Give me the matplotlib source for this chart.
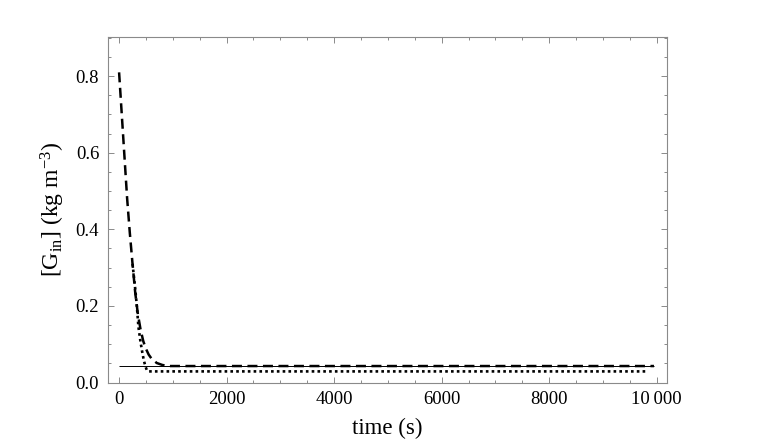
import matplotlib
matplotlib.use("Agg")
import matplotlib.pyplot as plt
from matplotlib.ticker import MultipleLocator, FixedLocator

plt.rcParams['font.family'] = ['Liberation Serif', 'DejaVu Serif']
plt.rcParams['mathtext.fontset'] = 'custom'
plt.rcParams['mathtext.rm'] = 'Liberation Serif'
plt.rcParams['mathtext.it'] = 'Liberation Serif:italic'

# dashed series
t_dashed = [0, 50, 100, 150, 200, 250, 300, 350, 400, 450, 500, 550, 600, 700, 800, 900, 1000, 9950]
v_dashed = [0.81, 0.70, 0.59, 0.48, 0.39, 0.31, 0.235, 0.178, 0.138, 0.108, 0.088, 0.073, 0.063, 0.051, 0.046, 0.043, 0.043, 0.043]

# dotted series (visible part, diverging from the dashed curve)
t_dotted = [250, 300, 330, 360, 400, 430, 460, 490, 520, 550, 9840]
v_dotted = [0.31, 0.245, 0.20, 0.145, 0.105, 0.08, 0.058, 0.042, 0.031, 0.029, 0.029]

# thin solid reference line
t_ref = [0, 9950]
v_ref = [0.043, 0.043]

x_major = [0, 2000, 4000, 6000, 8000, 10000]
x_labels = ["0", "2000", "4000", "6000", "8000", "10\u2009000"]
y_major = [0.0, 0.2, 0.4, 0.6, 0.8]
y_labels = ["0.0", "0.2", "0.4", "0.6", "0.8"]

fig = plt.figure(figsize=(7.63, 4.42), dpi=100)
ax = fig.add_axes([0.141, 0.1346, 0.733, 0.7814])

ax.plot(t_ref, v_ref, color='black', lw=0.7, solid_capstyle='butt')
ax.plot(t_dotted, v_dotted, color='black', lw=1.9, linestyle=(0, (1.0, 1.2)))
ax.plot(t_dashed, v_dashed, color='black', lw=1.8, linestyle=(0, (4.0, 2.2)))

ax.set_xlim(-214, 10190)
ax.set_ylim(0, 0.902)

ax.xaxis.set_major_locator(FixedLocator(x_major))
ax.set_xticklabels(x_labels)
ax.xaxis.set_minor_locator(MultipleLocator(500))
ax.yaxis.set_major_locator(FixedLocator(y_major))
ax.set_yticklabels(y_labels)
ax.yaxis.set_minor_locator(MultipleLocator(0.05))

for s in ax.spines.values():
    s.set_color('#8a8a8a')
    s.set_linewidth(0.8)

ax.tick_params(which='both', direction='in', top=True, right=True, color='#8a8a8a', width=0.7)
ax.tick_params(which='major', length=4.5, labelsize=13.5, pad=6)
ax.tick_params(which='minor', length=2.5)

ax.set_xlabel('time (s)', fontsize=16.5, labelpad=7)
ax.set_ylabel(r'[G$_{\mathrm{in}}$] (kg m$^{-3}$)', fontsize=17, labelpad=6)

fig.savefig('out.png', dpi=100)
